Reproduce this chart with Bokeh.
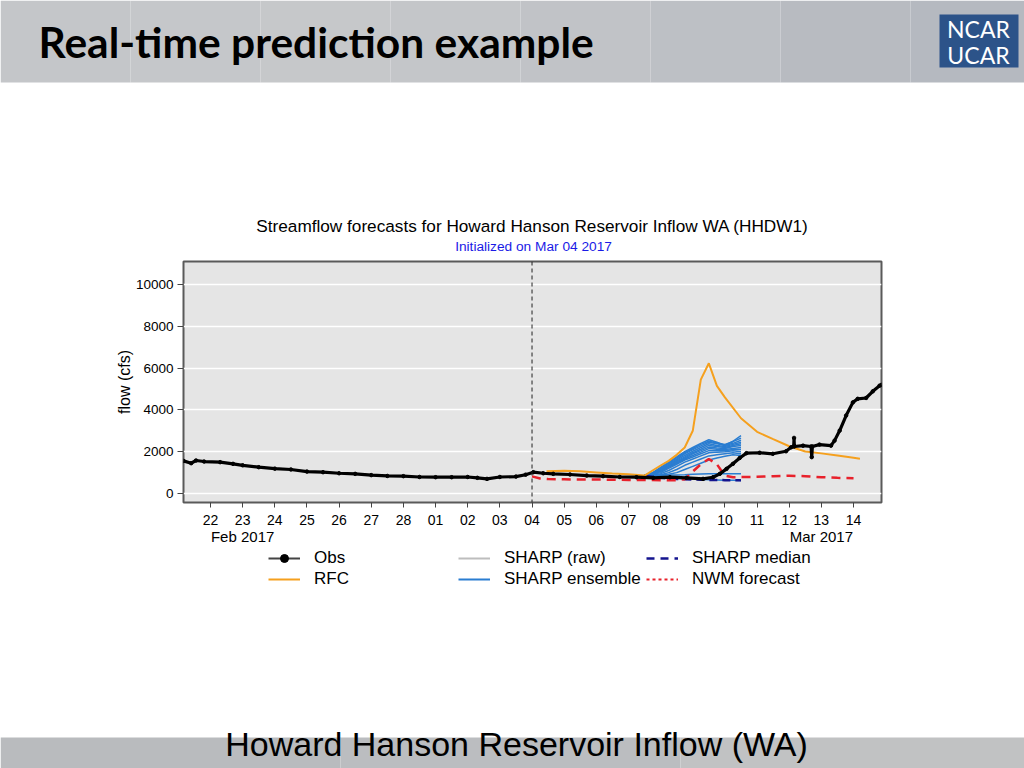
from bokeh.plotting import figure
from bokeh.models import FixedTicker, Span, Label, Legend, LegendItem, LinearAxis
from bokeh.embed import file_html
from bokeh.resources import INLINE

# ---------------- data ----------------
# x = days since Feb 22 2017 (Mar 01 = 7, Mar 04 = 10, Mar 14 = 20)
tick_days = list(range(21))
tick_labels = ["22", "23", "24", "25", "26", "27", "28", "01", "02", "03", "04",
               "05", "06", "07", "08", "09", "10", "11", "12", "13", "14"]
month_days = [1, 19]
month_labels = ["Feb 2017", "Mar 2017"]
y_ticks = [0, 2000, 4000, 6000, 8000, 10000]
init_day = 10

obs_t = [-0.84, -0.6, -0.45, -0.2, 0.3, 0.7, 1.0, 1.5, 2.0, 2.5, 3.0, 3.5, 4.0, 4.5,
         5.0, 5.5, 6.0, 6.5, 7.0, 7.5, 8.0, 8.3, 8.6, 9.0, 9.5, 9.8, 10.04, 10.35,
         10.66, 11.18, 11.7, 12.21, 12.73, 13.25, 13.77, 14.29, 14.8, 15.32, 15.63,
         15.84, 16.05, 16.25, 16.46, 16.67, 17.08, 17.49, 17.9, 18.06, 18.14, 18.15,
         18.16, 18.43, 18.68, 18.7, 18.72, 18.94, 19.3, 19.41, 19.57, 19.77, 19.98,
         20.13, 20.39, 20.6, 20.81, 20.87]
obs_q = [1560, 1450, 1580, 1530, 1500, 1420, 1350, 1260, 1190, 1150, 1050, 1020, 970, 940,
         880, 840, 830, 790, 780, 780, 790, 750, 700, 790, 810, 900, 1020, 970,
         940, 910, 860, 830, 790, 780, 750, 780, 750, 700, 780,
         940, 1180, 1420, 1700, 1930, 1950, 1900, 2020, 2210, 2260, 2660,
         2250, 2290, 2250, 1740, 2250, 2340, 2290, 2530, 3010, 3730, 4360,
         4530, 4570, 4890, 5160, 5200]

rfc_t = [10.45, 11.0, 11.5, 12.0, 12.5, 13.0, 13.5, 13.75, 14.0, 14.25, 14.5, 14.75,
         15.0, 15.25, 15.5, 15.75, 16.0, 16.5, 17.0, 17.5, 18.0, 18.5, 19.0, 19.5,
         20.0, 20.2]
rfc_q = [1070, 1090, 1060, 1010, 960, 920, 860, 1100, 1340, 1560, 1850, 2200,
         3000, 5450, 6230, 5150, 4600, 3600, 2950, 2600, 2260, 2010, 1920, 1820,
         1710, 1660]

nwm_t = [10.0, 10.25, 10.5, 11.0, 11.5, 12.0, 12.5, 13.0, 13.5, 14.0, 14.5, 14.75,
         15.0, 15.25, 15.5, 15.75, 16.0, 16.25, 16.5, 17.0, 17.5, 18.0, 18.5, 19.0,
         19.5, 20.0]
nwm_q = [820, 720, 690, 680, 670, 670, 660, 650, 650, 640, 640, 680,
         1050, 1400, 1650, 1400, 850, 780, 790, 800, 830, 850, 830, 780,
         750, 730]

ens_t = [13.5, 13.75, 14.0, 14.25, 14.5, 14.75, 15.0, 15.25, 15.5, 15.75, 16.0, 16.25, 16.5]
ens_members = [
    [880, 1000, 1250, 1500, 1750, 2000, 2200, 2400, 2570, 2450, 2300, 2500, 2770],
    [880, 980, 1200, 1450, 1700, 1950, 2150, 2350, 2500, 2420, 2350, 2480, 2650],
    [870, 970, 1150, 1400, 1650, 1900, 2100, 2280, 2450, 2380, 2300, 2400, 2550],
    [870, 960, 1120, 1350, 1600, 1820, 2020, 2200, 2380, 2300, 2250, 2350, 2450],
    [870, 950, 1100, 1300, 1550, 1750, 1950, 2120, 2300, 2250, 2200, 2300, 2380],
    [860, 940, 1080, 1280, 1500, 1700, 1900, 2050, 2220, 2180, 2150, 2250, 2300],
    [860, 930, 1050, 1250, 1450, 1650, 1820, 1980, 2150, 2120, 2100, 2150, 2200],
    [860, 920, 1000, 1200, 1400, 1600, 1750, 1900, 2050, 2050, 2050, 2100, 2100],
    [850, 900, 950, 1100, 1300, 1500, 1650, 1800, 1950, 1980, 2000, 2050, 2000],
    [850, 880, 900, 1000, 1150, 1350, 1500, 1650, 1800, 1850, 1900, 1950, 1900],
    [850, 870, 880, 920, 1000, 1150, 1300, 1450, 1600, 1700, 1780, 1850, 1820],
    [860, 860, 870, 880, 890, 900, 920, 930, 940, 950, 950, 950, 950],
    [840, 820, 790, 760, 730, 700, 690, 680, 660, 650, 640, 630, 620],
]
median_q = [850, 800, 750, 720, 700, 680, 670, 660, 650, 650, 640, 640, 640]
raw_t = []
raw_q = []

legend_col1 = ["Obs", "RFC"]
legend_col2 = ["SHARP (raw)", "SHARP ensemble"]
legend_col3 = ["SHARP median", "NWM forecast"]

# ---------------- styles ----------------
FONT = "Liberation Sans"
C_OBS = "black"
C_RFC = "#f5a01e"
C_RAW = "#bdbdbd"
C_ENS = "#2a7dd1"
C_MED = "#14148f"
C_NWM = "#e8212b"

TOP_H = 256      # slide header + chart titles
CHART_H = 291    # plot area + axes
BOT_H = 768 - TOP_H - CHART_H  # legend + footer


def deco_figure(h):
    f = figure(width=1024, height=h, output_backend="svg", toolbar_location=None,
               x_range=(0, 1024), y_range=(h, 0), x_axis_location=None,
               y_axis_location=None, min_border=0, min_border_left=0,
               min_border_right=0, min_border_top=0, min_border_bottom=0)
    f.title.visible = False
    f.grid.visible = False
    f.outline_line_color = None
    f.background_fill_color = "white"
    f.border_fill_color = "white"
    return f


def text_label(x, y, text, font, size, color="black", align="center", style="normal"):
    return Label(x=x, y=y, text=text, text_align=align, text_baseline="middle",
                 text_font=font, text_font_size=size, text_font_style=style,
                 text_color=color)


# ---------------- top: slide header + chart titles ----------------
top = deco_figure(TOP_H)
head_l = [0, 130, 260, 390, 520, 650, 780, 910]
head_r = [130, 260, 390, 520, 650, 780, 910, 1024]
head_c = ["#c4c6c9", "#c5c7ca", "#c6c8ca", "#c4c6c9", "#c1c3c7", "#bdc0c5", "#b8bbc1", "#b5b9c0"]
top.quad(left=head_l, right=head_r, top=[0] * 8, bottom=[82] * 8, fill_color=head_c,
         line_color=None)
top.quad(left=[939], right=[1018], top=[14], bottom=[67], fill_color="#2c5389", line_color=None)
top.add_layout(text_label(978, 28, "NCAR", "Lato", "23px", color="white"))
top.add_layout(text_label(978, 54, "UCAR", "Lato", "23px", color="white"))
top.add_layout(text_label(38, 41, "Real-time prediction example", "Lato", "42.5px",
                          align="left", style="bold"))
top.add_layout(text_label(532, 225,
                          "Streamflow forecasts for Howard Hanson Reservoir Inflow WA (HHDW1)",
                          FONT, "17.2px"))
top.add_layout(text_label(533, 246, "Initialized on Mar 04 2017", FONT, "13.7px",
                          color="#1a1ae6"))

# ---------------- chart ----------------
p = figure(width=1024, height=CHART_H, output_backend="svg", toolbar_location=None,
           x_range=(-0.84, 20.87), y_range=(-430, 11100),
           min_border_left=183, min_border_right=143, min_border_top=5,
           min_border_bottom=CHART_H - 5 - 241)
p.title.visible = False
p.background_fill_color = "#e5e5e5"
p.border_fill_color = "white"
p.outline_line_color = "#5a5a5a"
p.outline_line_width = 2

p.xgrid.visible = False
p.ygrid.ticker = FixedTicker(ticks=y_ticks)
p.ygrid.grid_line_color = "white"
p.ygrid.grid_line_width = 1.5

xa = p.xaxis[0]
xa.ticker = FixedTicker(ticks=tick_days, minor_ticks=[])
xa.major_label_overrides = {d: lab for d, lab in zip(tick_days, tick_labels)}
xa.axis_line_color = None
xa.major_tick_line_color = "#444444"
xa.major_tick_out = 5
xa.major_tick_in = 0
xa.minor_tick_line_color = None
xa.major_label_standoff = 7
xa.major_label_text_font = FONT
xa.major_label_text_font_size = "14px"
xa.major_label_text_color = "black"

mx = LinearAxis(ticker=FixedTicker(ticks=month_days, minor_ticks=[]),
                major_label_overrides={d: lab for d, lab in zip(month_days, month_labels)},
                axis_line_color=None, major_tick_line_color=None, minor_tick_line_color=None,
                major_tick_out=0, major_tick_in=0, major_label_standoff=0,
                major_label_text_font=FONT, major_label_text_font_size="15px",
                major_label_text_color="black")
p.add_layout(mx, "below")

ya = p.yaxis[0]
ya.ticker = FixedTicker(ticks=y_ticks, minor_ticks=[])
ya.axis_line_color = None
ya.major_tick_line_color = "#444444"
ya.major_tick_out = 6
ya.major_tick_in = 0
ya.minor_tick_line_color = None
ya.major_label_standoff = 4
ya.major_label_text_font = FONT
ya.major_label_text_font_size = "13.5px"
ya.major_label_text_color = "black"
ya.axis_label = "flow (cfs)"
ya.axis_label_text_font = FONT
ya.axis_label_text_font_size = "16px"
ya.axis_label_text_font_style = "normal"
ya.axis_label_text_color = "black"
ya.axis_label_standoff = 0

p.line(raw_t, raw_q, line_color=C_RAW, line_width=2)
p.multi_line([ens_t] * len(ens_members), ens_members, line_color=C_ENS, line_width=1.5)
p.line(ens_t, median_q, line_color=C_MED, line_width=2.5, line_dash="8 5")
p.line(nwm_t, nwm_q, line_color=C_NWM, line_width=2.5, line_dash="9 6")
p.line(rfc_t, rfc_q, line_color=C_RFC, line_width=2)
p.line(obs_t, obs_q, line_color=C_OBS, line_width=3.2)
p.scatter(obs_t, obs_q, size=3.5, color=C_OBS)

p.add_layout(Span(location=init_day, dimension="height", line_color="#222222",
                  line_width=1, line_dash="4 3"))

# ---------------- bottom: legend + footer ----------------
bot = deco_figure(BOT_H)
bot_y0 = TOP_H + CHART_H  # page y where this strip begins
# legend keys (drawn only in the legend; their one point lies off the canvas)
off_x = [-500]
off_y = [-500]
k_obs_l = bot.line(off_x, off_y, line_color="#444444", line_width=2)
k_obs_p = bot.scatter(off_x, off_y, size=5, color="black")
k_rfc = bot.line(off_x, off_y, line_color=C_RFC, line_width=2)
k_raw = bot.line(off_x, off_y, line_color=C_RAW, line_width=2)
k_ens = bot.line(off_x, off_y, line_color=C_ENS, line_width=2)
k_med = bot.line(off_x, off_y, line_color=C_MED, line_width=2.5, line_dash="8 6")
k_nwm = bot.line(off_x, off_y, line_color=C_NWM, line_width=2, line_dash="3 3")

legend_bottom = BOT_H - (589 - bot_y0)


def make_legend(items, x):
    return Legend(items=items, location=(x, legend_bottom), orientation="vertical",
                  label_text_font=FONT, label_text_font_size="17px",
                  label_text_color="black",
                  glyph_width=32, glyph_height=20, label_height=20,
                  label_standoff=14, spacing=1, padding=0, margin=0,
                  border_line_alpha=0, background_fill_alpha=0)


bot.add_layout(make_legend([LegendItem(label=legend_col1[0], renderers=[k_obs_l, k_obs_p]),
                            LegendItem(label=legend_col1[1], renderers=[k_rfc])], 268))
bot.add_layout(make_legend([LegendItem(label=legend_col2[0], renderers=[k_raw]),
                            LegendItem(label=legend_col2[1], renderers=[k_ens])], 458))
bot.add_layout(make_legend([LegendItem(label=legend_col3[0], renderers=[k_med]),
                            LegendItem(label=legend_col3[1], renderers=[k_nwm])], 646))

foot_l = [0, 340, 680]
foot_r = [340, 680, 1024]
foot_c = ["#b9bbbe", "#bbbdc0", "#c1c2c3"]
bot.quad(left=foot_l, right=foot_r, top=[737 - bot_y0] * 3, bottom=[BOT_H] * 3,
         fill_color=foot_c, line_color=None)
bot.add_layout(text_label(516, 743 - bot_y0, "Howard Hanson Reservoir Inflow (WA)", FONT, "34px"))

open("out.html", "w").write(file_html([top, p, bot], INLINE))
